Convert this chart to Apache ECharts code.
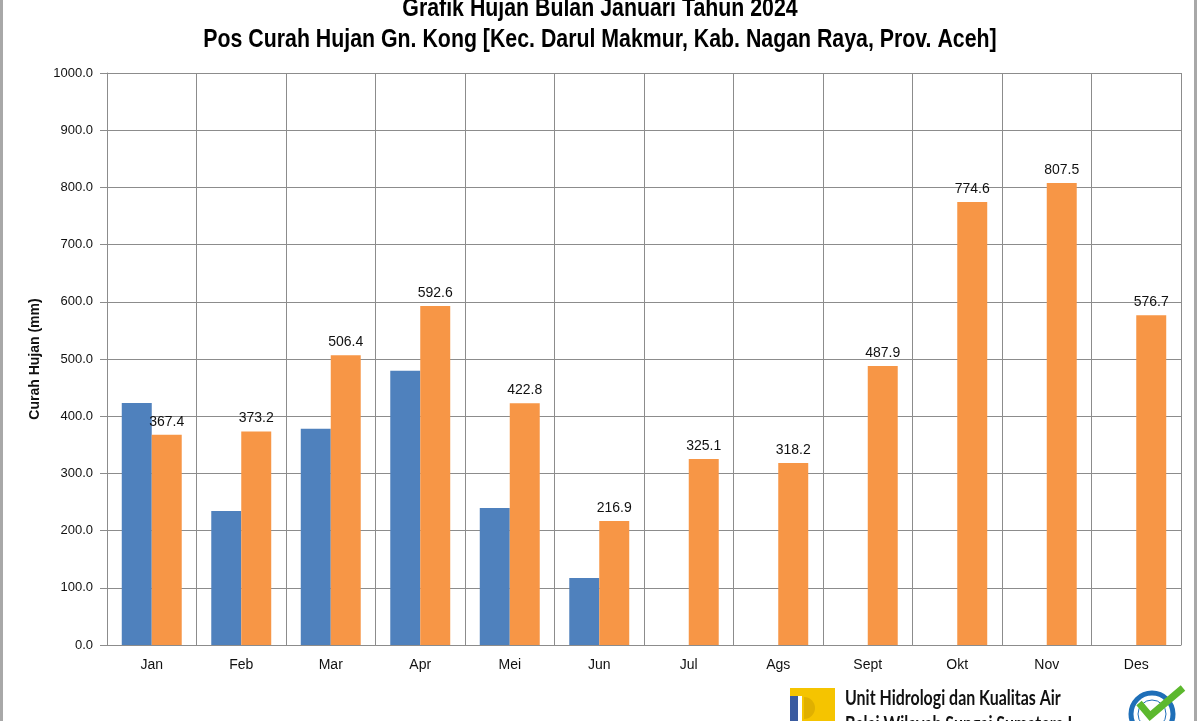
<!DOCTYPE html>
<html>
<head>
<meta charset="utf-8">
<script src="https://cdn.jsdelivr.net/npm/echarts@6/dist/echarts.min.js"></script>
<style>
html,body{margin:0;padding:0;background:#fff;}
#chart{width:1200px;height:721px;}
</style>
</head>
<body>
<div id="chart"></div>
<script>
const categories = ['Jan','Feb','Mar','Apr','Mei','Jun','Jul','Ags','Sept','Okt','Nov','Des'];
const hujan2024 = [423.0, 234.4, 378.0, 479.4, 239.7, 117.2, null, null, null, null, null, null];
const rerata = [367.4, 373.2, 506.4, 592.6, 422.8, 216.9, 325.1, 318.2, 487.9, 774.6, 807.5, 576.7];
const yTicks = {min: 0, max: 1000, interval: 100};
const titleLine1 = 'Grafik Hujan Bulan Januari Tahun 2024';
const titleLine2 = 'Pos Curah Hujan Gn. Kong [Kec. Darul Makmur, Kab. Nagan Raya, Prov. Aceh]';
const yName = 'Curah Hujan (mm)';
const seriesNames = ['Hujan Bulanan 2024', 'Rerata'];
const unitLine1 = 'Unit Hidrologi dan Kualitas Air';
const unitLine2 = 'Balai Wilayah Sungai Sumatera I';

const chart = echarts.init(document.getElementById('chart'), null, {renderer: 'canvas'});
const sans = '"Liberation Sans", Arial, sans-serif';
const logoFont = 'Lato, "Liberation Sans", sans-serif';

chart.setOption({
  animation: false,
  backgroundColor: '#ffffff',
  legend: {
    data: seriesNames, left: 520, top: 716, itemWidth: 8, itemHeight: 8, itemGap: 60,
    textStyle: {fontFamily: sans, fontSize: 11, color: '#777'}
  },
  grid: {left: 107, right: 19, top: 73, bottom: 76, containLabel: false},
  xAxis: {
    type: 'category', data: categories,
    axisLine: {show: true, lineStyle: {color: '#8c8c8c', width: 1}},
    axisTick: {show: false},
    splitLine: {show: true, lineStyle: {color: '#8c8c8c', width: 1}},
    axisLabel: {fontFamily: sans, fontSize: 14, color: '#111', margin: 13}
  },
  yAxis: {
    type: 'value', min: yTicks.min, max: yTicks.max, interval: yTicks.interval,
    name: yName, nameLocation: 'middle', nameGap: 60, nameRotate: 90,
    nameTextStyle: {fontFamily: sans, fontWeight: 'bold', fontSize: 14, color: '#111'},
    axisLine: {show: true, lineStyle: {color: '#8c8c8c'}},
    axisTick: {show: true, length: 7, lineStyle: {color: '#8c8c8c'}},
    splitLine: {show: true, lineStyle: {color: '#8c8c8c', width: 1}},
    axisLabel: {fontFamily: sans, fontSize: 13, color: '#111', margin: 14, formatter: v => v.toFixed(1)}
  },
  series: [
    {name: seriesNames[0], type: 'bar', data: hujan2024, barGap: '0%', barCategoryGap: '33%',
     itemStyle: {color: '#4f81bd'}},
    {name: seriesNames[1], type: 'bar', data: rerata, barGap: '0%', barCategoryGap: '33%',
     itemStyle: {color: '#f79646'},
     label: {show: true, position: 'top', distance: 6, fontFamily: sans, fontSize: 14, color: '#111',
             formatter: p => p.value.toFixed(1)}}
  ],
  graphic: [
    {type: 'rect', shape: {x: 0, y: 0, width: 3, height: 721}, style: {fill: '#a8a8a8'}, silent: true},
    {type: 'rect', shape: {x: 1194, y: 0, width: 3, height: 721}, style: {fill: '#a8a8a8'}, silent: true},
    // titles (condensed)
    {type: 'text', x: 600, y: 9, scaleX: 0.82, style: {text: titleLine1, align: 'center', verticalAlign: 'middle', fontFamily: sans, fontWeight: 'bold', fontSize: 26, fill: '#000'}},
    {type: 'text', x: 600, y: 40, scaleX: 0.82, style: {text: titleLine2, align: 'center', verticalAlign: 'middle', fontFamily: sans, fontWeight: 'bold', fontSize: 26, fill: '#000'}},
    // PU logo
    {type: 'rect', shape: {x: 790, y: 688, width: 45, height: 33}, style: {fill: '#f5c400'}},
    {type: 'rect', shape: {x: 790, y: 696, width: 8, height: 25}, style: {fill: '#3a5ba0'}},
    {type: 'rect', shape: {x: 798, y: 696, width: 4, height: 25}, style: {fill: '#ffffff'}},
    {type: 'sector', shape: {cx: 804, cy: 708, r0: 0, r: 11, startAngle: -Math.PI/2, endAngle: Math.PI/2}, style: {fill: '#e0b000'}},
    {type: 'text', x: 845, y: 688, scaleX: 0.76, style: {text: unitLine1, align: 'left', verticalAlign: 'top', fontFamily: logoFont, fontWeight: 'bold', fontSize: 21, fill: '#111'}},
    {type: 'text', x: 845, y: 714, scaleX: 0.76, style: {text: unitLine2, align: 'left', verticalAlign: 'top', fontFamily: logoFont, fontWeight: 'bold', fontSize: 21, fill: '#111'}},
    // ISO badge
    {type: 'circle', shape: {cx: 1152, cy: 714, r: 21}, style: {fill: '#ffffff', stroke: '#1f6fb8', lineWidth: 5}},
    {type: 'circle', shape: {cx: 1152, cy: 714, r: 14}, style: {fill: '#ffffff', stroke: '#1f6fb8', lineWidth: 1}},
    {type: 'polyline', shape: {points: [[1139, 703], [1150, 716], [1183, 688]]}, style: {stroke: '#5cb82e', lineWidth: 7, fill: null}}
  ]
});
</script>
</body>
</html>
